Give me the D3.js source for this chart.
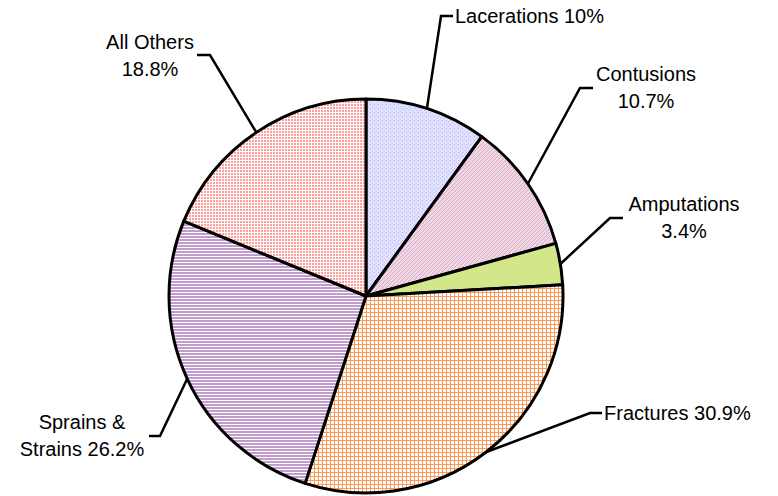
<!DOCTYPE html>
<html>
<head>
<meta charset="utf-8">
<script src="https://cdn.jsdelivr.net/npm/d3@7"></script>
<style>
  html, body { margin: 0; padding: 0; background: #fff; }
  text { font-family: Arial, "Liberation Sans", sans-serif; font-size: 20px; fill: #000; }
</style>
</head>
<body>
<div id="chart"></div>
<script>
// injury types, clockwise from 12 o'clock
let categories = ['Lacerations', 'Contusions', 'Amputations', 'Fractures', 'Sprains & Strains', 'All Others'];
let shares = [10, 10.7, 3.4, 30.9, 26.2, 18.8];
let labelLines = [
	['Lacerations 10%'],
	['Contusions', '10.7%'],
	['Amputations', '3.4%'],
	['Fractures 30.9%'],
	['Sprains &', 'Strains 26.2%'],
	['All Others', '18.8%']
];

let width = 778;
let height = 496;
let cx = 366, cy = 296, radius = 197;

// leader elbow, leader end, text anchor point, anchor type
let layout = [
	{elbow: [441, 16], end: [453, 16], text: [455, 16], anchor: 'start'},
	{elbow: [580, 88], end: [593, 88], text: [646, 74], anchor: 'middle'},
	{elbow: [610, 218], end: [623, 218], text: [684, 204], anchor: 'middle'},
	{elbow: [590, 413], end: [602, 413], text: [604, 413], anchor: 'start'},
	{elbow: [160, 436], end: [149, 436], text: [82, 422], anchor: 'middle'},
	{elbow: [210, 55], end: [197, 55], text: [150, 42], anchor: 'middle'}
];

let svg = d3.select('#chart')
	.append('svg')
	.attr('width', width)
	.attr('height', height);

let defs = svg.append('defs');

// lacerations: lavender with dotted grid
let p0 = defs.append('pattern').attr('id', 'pat0').attr('patternUnits', 'userSpaceOnUse').attr('width', 4).attr('height', 4);
p0.append('rect').attr('width', 4).attr('height', 4).attr('fill', '#e0e0ff');
p0.append('rect').attr('x', 0).attr('y', 0).attr('width', 1).attr('height', 1).attr('fill', '#aeaef2');
p0.append('rect').attr('x', 2).attr('y', 2).attr('width', 1).attr('height', 1).attr('fill', '#c4c4f6');

// contusions: pink diagonal
let p1 = defs.append('pattern').attr('id', 'pat1').attr('patternUnits', 'userSpaceOnUse').attr('width', 4).attr('height', 4);
p1.append('rect').attr('width', 4).attr('height', 4).attr('fill', '#efd7e4');
p1.append('path').attr('d', 'M0,4L4,0M-1,1L1,-1M3,5L5,3').attr('stroke', '#d9abc6').attr('stroke-width', 1);

// fractures: orange grid
let p3 = defs.append('pattern').attr('id', 'pat3').attr('patternUnits', 'userSpaceOnUse').attr('width', 4).attr('height', 4);
p3.append('rect').attr('width', 4).attr('height', 4).attr('fill', '#fff');
p3.append('rect').attr('x', 0).attr('y', 0).attr('width', 4).attr('height', 1).attr('fill', '#fb9a55');
p3.append('rect').attr('x', 0).attr('y', 0).attr('width', 1).attr('height', 4).attr('fill', '#fb9a55');

// sprains: purple horizontal stripes
let p4 = defs.append('pattern').attr('id', 'pat4').attr('patternUnits', 'userSpaceOnUse').attr('width', 4).attr('height', 3);
p4.append('rect').attr('width', 4).attr('height', 3).attr('fill', '#fff');
p4.append('rect').attr('width', 4).attr('height', 2).attr('fill', '#c29ccd');

// all others: salmon with white grid
let p5 = defs.append('pattern').attr('id', 'pat5').attr('patternUnits', 'userSpaceOnUse').attr('width', 3).attr('height', 3);
p5.append('rect').attr('width', 3).attr('height', 3).attr('fill', '#fff');
p5.append('rect').attr('width', 2).attr('height', 2).attr('fill', '#ff9c9c');

let fills = ['url(#pat0)', 'url(#pat1)', '#d3e78a', 'url(#pat3)', 'url(#pat4)', 'url(#pat5)'];

let pie = d3.pie().sort(null).value(d => d);
let arcs = pie(shares);
let arc = d3.arc().innerRadius(0).outerRadius(radius);

let g = svg.append('g').attr('transform', `translate(${cx},${cy})`);

g.selectAll('path.slice')
	.data(arcs)
	.enter()
	.append('path')
	.attr('class', 'slice')
	.attr('d', arc)
	.attr('fill', (d, i) => fills[i])
	.attr('stroke', '#000')
	.attr('stroke-width', 3)
	.attr('stroke-linejoin', 'round');

// leader lines
arcs.forEach((d, i) => {
	let mid = (d.startAngle + d.endAngle) / 2;
	let sx = cx + radius * Math.sin(mid);
	let sy = cy - radius * Math.cos(mid);
	let l = layout[i];
	svg.append('polyline')
		.attr('points', [[sx, sy], l.elbow, l.end].map(p => p.join(',')).join(' '))
		.attr('fill', 'none')
		.attr('stroke', '#000')
		.attr('stroke-width', 2.5);

	let t = svg.append('text')
		.attr('x', l.text[0])
		.attr('y', l.text[1])
		.attr('text-anchor', l.anchor)
		.attr('dominant-baseline', 'central');
	labelLines[i].forEach((line, j) => {
		t.append('tspan')
			.attr('x', l.text[0])
			.attr('dy', j === 0 ? 0 : 27)
			.text(line);
	});
});
</script>
</body>
</html>
